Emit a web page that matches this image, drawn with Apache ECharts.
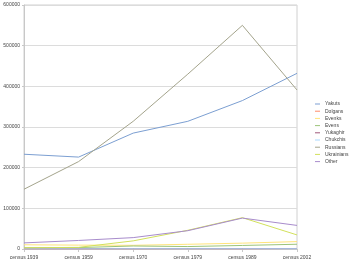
<!DOCTYPE html>
<html>
<head>
<meta charset="utf-8">
<script src="https://cdn.jsdelivr.net/npm/echarts@6/dist/echarts.min.js"></script>
<style>html,body{margin:0;padding:0;background:#fff}#c{width:350px;height:267px}</style>
</head>
<body>
<div id="c"></div>
<script>
const categories = ['census 1939','census 1959','census 1970','census 1979','census 1989','census 2002'];
const yakuts     = [233000, 226000, 285000, 314000, 365000, 432000];
const dolgans    = [400, 500, 600, 700, 400, 1300];
const evenks     = [10400, 9500, 9100, 11600, 14400, 18200];
const evens      = [3100, 3500, 7400, 6000, 8700, 11700];
const yukaghir   = [400, 400, 500, 800, 700, 1100];
const chukchis   = [300, 300, 500, 500, 500, 600];
const russians   = [147000, 215000, 314000, 430000, 550000, 391000];
const ukrainians = [3000, 4000, 20000, 46000, 77000, 34600];
const other      = [15000, 21000, 28000, 45000, 76000, 58000];
const yTicks = [0, 100000, 200000, 300000, 400000, 500000, 600000];

const seriesDefs = [
  ['Yakuts', yakuts, '#7c9fd2'],
  ['Dolgans', dolgans, '#ff8a68'],
  ['Evenks', evenks, '#ffe47a'],
  ['Evens', evens, '#9cc47a'],
  ['Yukaghir', yukaghir, '#a0587a'],
  ['Chukchis', chukchis, '#a8d8ff'],
  ['Russians', russians, '#a4a48c'],
  ['Ukrainians', ukrainians, '#d2e05c'],
  ['Other', other, '#a88ccc']
];

const chart = echarts.init(document.getElementById('c'));
chart.setOption({
  animation: false,
  backgroundColor: '#fff',
  textStyle: {fontFamily: 'Liberation Sans'},
  grid: {left: 24, right: 53, top: 5, bottom: 18, show: true, borderColor: '#d0d0d0', borderWidth: 1},
  legend: {
    orient: 'vertical', left: 315, top: 101, padding: 0,
    itemWidth: 5, itemHeight: 1, itemGap: 1.2,
    icon: 'rect',
    textStyle: {fontSize: 5, color: '#444', lineHeight: 6},
    data: seriesDefs.map(s => s[0])
  },
  xAxis: {
    type: 'category', data: categories, boundaryGap: false,
    axisLine: {lineStyle: {color: '#c8c8c8'}},
    axisTick: {show: true, length: 3, lineStyle: {color: '#c8c8c8'}},
    axisLabel: {fontSize: 5, color: '#444', margin: 6},
    splitLine: {show: false}
  },
  yAxis: {
    type: 'value', min: yTicks[0], max: yTicks[yTicks.length-1], interval: 100000,
    axisLine: {show: true, lineStyle: {color: '#c8c8c8'}},
    axisTick: {show: true, length: 2, lineStyle: {color: '#c8c8c8'}},
    axisLabel: {fontSize: 5, color: '#444', margin: 4, formatter: v => String(v)},
    splitLine: {lineStyle: {color: '#dcdcdc'}}
  },
  series: seriesDefs.map(s => ({
    name: s[0], type: 'line', data: s[1], symbol: 'none',
    lineStyle: {width: 1, color: s[2]}, itemStyle: {color: s[2]}
  }))
});
</script>
</body>
</html>
